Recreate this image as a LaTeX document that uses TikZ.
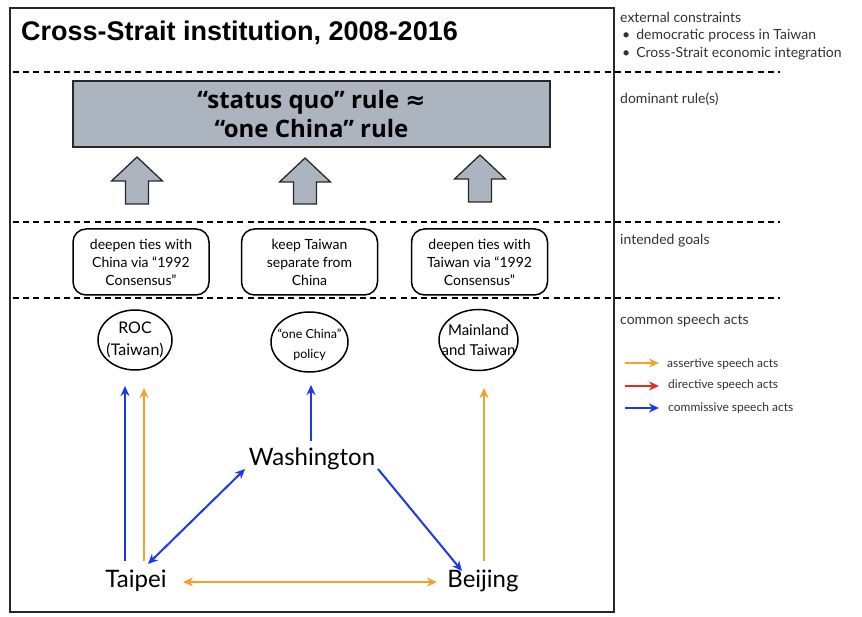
\documentclass[tikz,border=0pt]{standalone}
\usepackage{fontspec}
\setmainfont{Lato}
\newfontfamily\titlefont{Liberation Sans}
\newfontfamily\rulefont{Open Sans}
\newfontfamily\dvs{DejaVu Sans}
\usetikzlibrary{arrows.meta,shapes.geometric}
\definecolor{rulegrey}{RGB}{172,180,192}
\definecolor{framegrey}{RGB}{40,40,40}
\definecolor{labgrey}{RGB}{50,50,50}
\definecolor{orangeA}{RGB}{245,160,40}
\definecolor{redA}{RGB}{225,45,30}
\definecolor{blueA}{RGB}{30,55,235}
\tikzset{
  frame/.style={draw=framegrey, line width=1.4pt},
  sep/.style={draw=black, line width=2.6pt, dash pattern=on 6pt off 4.2pt},
  sidelab/.style={anchor=west, text=labgrey, font=\fontsize{14}{16}\selectfont, inner sep=0pt},
  leglab/.style={anchor=west, text=labgrey, font=\fontsize{12}{14}\selectfont, inner sep=0pt},
  rulebox/.style={draw=framegrey, line width=1.4pt, fill=rulegrey, minimum width=477pt, minimum height=66pt, align=center, font=\rulefont\bfseries\fontsize{24}{29}\selectfont},
  blockarr/.style={draw=framegrey, line width=1.3pt, fill=rulegrey},
  goalbox/.style={draw=black, line width=1.5pt, rounded corners=13pt, minimum width=136pt, minimum height=66pt, align=center, font=\fontsize{14}{18}\selectfont, inner sep=1pt},
  actell/.style={draw=black, line width=1.5pt, ellipse, inner sep=0pt},
  elltext/.style={align=center, inner sep=0pt},
  place/.style={font=\fontsize{24}{28}\selectfont, inner sep=1pt},
  act/.style={line width=2pt, -{Stealth[length=10pt,width=9pt]}},
  actboth/.style={line width=2pt, {Stealth[length=10pt,width=9pt]}-{Stealth[length=10pt,width=9pt]}},
}
\begin{document}
\begin{tikzpicture}[x=1pt,y=-1pt]
\useasboundingbox (0,0) rectangle (862,617);
\fill[white] (0,0) rectangle (862,617);
\draw[frame] (10,8) rectangle (614,612);
% separators
\draw[sep] (13,72) -- (780,72);
\draw[sep] (13,222) -- (780,222);
\draw[sep] (13,298) -- (780,298);
% title
\node[anchor=west, inner sep=0pt, font=\titlefont\bfseries\fontsize{27}{30}\selectfont] (title) at (21,33) {Cross-Strait institution, 2008-2016};
% side labels
\node[sidelab] (ext) at (620,17) {external constraints};
\node[sidelab] (ext1) at (622,36) {•\hspace{6pt}democratic process in Taiwan};
\node[sidelab] (ext2) at (622,54) {•\hspace{6pt}Cross-Strait economic integration};
\node[sidelab] (dom) at (620,99) {dominant rule(s)};
\node[sidelab] (goals) at (620,241) {intended goals};
\node[sidelab] (common) at (620,321) {common speech acts};
% rule box
\node[rulebox] (rule) at (311.5,114) {“status quo” rule {\dvs\bfseries ≈}\\“one China” rule};
% block arrows
\foreach \cx/\ty/\by in {137/157/204, 305/158/204, 480/155/202}{
  \draw[blockarr] (\cx-11.5,\by) -- (\cx-11.5,\ty+24) -- (\cx-25.5,\ty+24) -- (\cx,\ty) -- (\cx+25.5,\ty+24) -- (\cx+11.5,\ty+24) -- (\cx+11.5,\by) -- cycle;
}
% goal boxes
\node[goalbox] (g1) at (141,262) {deepen ties with\\China via “1992\\Consensus”};
\node[goalbox] (g2) at (309.5,262) {keep Taiwan\\separate from\\China};
\node[goalbox] (g3) at (479.5,262) {deepen ties with\\Taiwan via “1992\\Consensus”};
% ellipses
\node[actell, minimum width=74pt, minimum height=60pt] (roc) at (135,340) {};
\node[elltext, font=\fontsize{16}{22}\selectfont] (roct) at (roc) {ROC\\(Taiwan)};
\node[actell, minimum width=77pt, minimum height=60pt] (oc) at (309.5,342) {};
\node[elltext, font=\fontsize{12.5}{20}\selectfont] (oct) at ([yshift=-3pt]oc.center) {“one China”\\policy};
\node[actell, minimum width=79pt, minimum height=61pt] (ml) at (478.5,340) {};
\node[elltext, font=\fontsize{15}{20}\selectfont] (mlt) at (ml) {Mainland\\and Taiwan};
% places
\node[place] (taipei) at (136,581) {Taipei};
\node[place] (wash) at (312,459) {Washington};
\node[place] (beijing) at (483,581) {Beijing};
% connector end points
\coordinate (tb0) at (125,561);
\coordinate (tb1) at (125,386);
\coordinate (to0) at (144,561);
\coordinate (to1) at (144,388);
\coordinate (w0) at (311,441);
\coordinate (w1) at (311,385);
\coordinate (bo0) at (484,561);
\coordinate (bo1) at (484,388);
\coordinate (tw0) at (148,564);
\coordinate (tw1) at (245,469);
\coordinate (wb0) at (378,469);
\coordinate (wb1) at (462,571);
\coordinate (tbj0) at (183,582);
\coordinate (tbj1) at (437,582);
\draw[act, blueA] (tb0) -- (tb1);
\draw[act, orangeA] (to0) -- (to1);
\draw[act, blueA] (w0) -- (w1);
\draw[act, orangeA] (bo0) -- (bo1);
\draw[actboth, blueA] (tw0) -- (tw1);
\draw[act, blueA] (wb0) -- (wb1);
\draw[actboth, orangeA] (tbj0) -- (tbj1);
% legend
\coordinate (la0) at (625,363); \coordinate (la1) at (659,363);
\coordinate (lb0) at (625,386); \coordinate (lb1) at (659,386);
\coordinate (lc0) at (625,408); \coordinate (lc1) at (659,408);
\draw[act, orangeA] (la0) -- (la1);
\draw[act, redA] (lb0) -- (lb1);
\draw[act, blueA] (lc0) -- (lc1);
\node[leglab] (lega) at (667,364) {assertive speech acts};
\node[leglab] (legb) at (668,385) {directive speech acts};
\node[leglab] (legc) at (668,408) {commissive speech acts};
\end{tikzpicture}
\end{document}
